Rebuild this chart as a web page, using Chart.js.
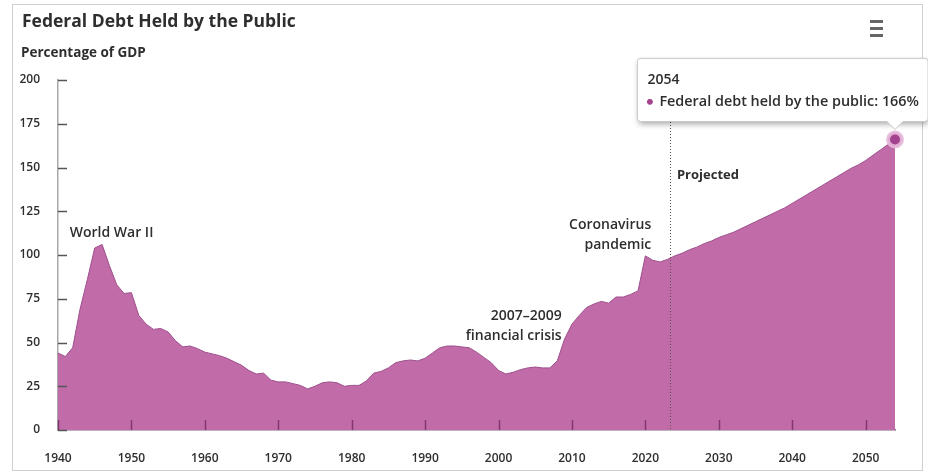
<!DOCTYPE html>
<html>
<head>
<meta charset="utf-8">
<title>Federal Debt Held by the Public</title>
<script src="https://cdn.jsdelivr.net/npm/chart.js@4.4.1/dist/chart.umd.min.js"></script>
<style>
  html, body { margin: 0; padding: 0; background: #fff; }
  #wrap { position: relative; width: 936px; height: 474px; }
  canvas { position: absolute; left: 0; top: 0; }
</style>
</head>
<body>
<div id="wrap"><canvas id="debtChart" width="928" height="474"></canvas></div>
<script>
// Data (percentage of GDP, fiscal years)
const years = [
  1940, 1941, 1942, 1943, 1944, 1945, 1946, 1947, 1948, 1949,
  1950, 1951, 1952, 1953, 1954, 1955, 1956, 1957, 1958, 1959,
  1960, 1961, 1962, 1963, 1964, 1965, 1966, 1967, 1968, 1969,
  1970, 1971, 1972, 1973, 1974, 1975, 1976, 1977, 1978, 1979,
  1980, 1981, 1982, 1983, 1984, 1985, 1986, 1987, 1988, 1989,
  1990, 1991, 1992, 1993, 1994, 1995, 1996, 1997, 1998, 1999,
  2000, 2001, 2002, 2003, 2004, 2005, 2006, 2007, 2008, 2009,
  2010, 2011, 2012, 2013, 2014, 2015, 2016, 2017, 2018, 2019,
  2020, 2021, 2022, 2023, 2024, 2025, 2026, 2027, 2028, 2029,
  2030, 2031, 2032, 2033, 2034, 2035, 2036, 2037, 2038, 2039,
  2040, 2041, 2042, 2043, 2044, 2045, 2046, 2047, 2048, 2049,
  2050, 2051, 2052, 2053, 2054
];
const debtShare = [
  44, 42, 47, 69, 86, 104, 106, 94, 83, 78,
  78.5, 65.5, 60.5, 57.5, 58, 56, 51, 47.5, 48, 46.5,
  44.5, 43.5, 42.5, 41, 39, 37, 34, 32, 32.5, 28.5,
  27.5, 27.5, 26.5, 25.5, 23.5, 25, 27, 27.5, 27, 25,
  25.5, 25.5, 28, 32.5, 33.5, 35.5, 38.5, 39.5, 40, 39.5,
  41, 44, 47, 48, 48, 47.5, 47, 44.5, 41.5, 38.5,
  34, 32, 33, 34.5, 35.5, 36, 35.5, 35.5, 39.5, 52,
  60.5, 65.5, 70, 72, 73.5, 72.5, 76, 76, 77.5, 79.5,
  99.5, 97, 96, 97.5, 99.5, 101, 103, 104.5, 106.5, 108,
  110, 111.5, 113, 115, 117, 119, 121, 123, 125, 127,
  129.5, 132, 134.5, 137, 139.5, 142, 144.5, 147, 149.5, 151.5,
  154, 157, 160, 163, 166
];
const xTicks = [1940, 1950, 1960, 1970, 1980, 1990, 2000, 2010, 2020, 2030, 2040, 2050];
const yTicks = [0, 25, 50, 75, 100, 125, 150, 175, 200];
const seriesName = 'Federal debt held by the public';
const projectionStart = 2023.35;

const FONT = "'Open Sans', 'Noto Sans', sans-serif";
const lastIndex = years.length - 1;
const points = years.map((y, i) => ({ x: y, y: debtShare[i] }));

// Text notes anchored in data units
const notes = [
  { lines: ['World War II'], x: 1941.6, y: 112.6, align: 'left', weight: '600' },
  { lines: ['2007\u20132009', 'financial crisis'], x: 2008.6, y: 65.1, align: 'right', weight: '600' },
  { lines: ['Coronavirus', 'pandemic'], x: 2020.8, y: 117.1, align: 'right', weight: '600' },
  { lines: ['Projected'], x: 2024.3, y: 145.7, align: 'left', weight: '700' }
];

const decorPlugin = {
  id: 'decor',
  beforeDraw(chart) {
    const ctx = chart.ctx;
    ctx.save();
    ctx.fillStyle = '#fff';
    ctx.fillRect(0, 0, chart.width, chart.height);
    ctx.strokeStyle = '#cfcfcf';
    ctx.lineWidth = 1;
    ctx.strokeRect(12.5, 4.5, 910, 466);

    ctx.fillStyle = '#2e2e2e';
    ctx.textAlign = 'left';
    ctx.textBaseline = 'alphabetic';
    ctx.font = '700 17.5px ' + FONT;
    ctx.fillText('Federal Debt Held by the Public', 22, 27);
    ctx.font = '700 13.5px ' + FONT;
    ctx.fillText('Percentage of GDP', 21, 57);

    // menu icon
    ctx.fillStyle = '#666';
    [20, 27, 34].forEach(y => ctx.fillRect(870, y, 13, 3));
    ctx.restore();
  },
  afterDatasetsDraw(chart) {
    const ctx = chart.ctx;
    const xs = chart.scales.x, ys = chart.scales.y;
    const area = chart.chartArea;
    ctx.save();

    // inner tick marks
    ctx.lineWidth = 1.5;
    ctx.strokeStyle = '#555';
    ys.ticks.forEach(t => {
      const py = Math.round(ys.getPixelForValue(t.value)) + 0.5;
      ctx.beginPath();
      ctx.moveTo(area.left, py);
      ctx.lineTo(area.left + 9, py);
      ctx.stroke();
    });
    ctx.strokeStyle = 'rgba(90, 20, 70, 0.6)';
    xs.ticks.forEach(t => {
      const px = Math.round(xs.getPixelForValue(t.value)) + 0.5;
      ctx.beginPath();
      ctx.moveTo(px, area.bottom);
      ctx.lineTo(px, area.bottom - 10);
      ctx.stroke();
    });

    // projection divider
    const dx = Math.round(xs.getPixelForValue(projectionStart)) + 0.5;
    ctx.strokeStyle = '#555';
    ctx.lineWidth = 1;
    ctx.setLineDash([1, 2]);
    ctx.beginPath();
    ctx.moveTo(dx, area.top);
    ctx.lineTo(dx, area.bottom);
    ctx.stroke();
    ctx.setLineDash([]);

    // notes
    ctx.fillStyle = '#2e2e2e';
    ctx.textBaseline = 'middle';
    notes.forEach(n => {
      ctx.font = n.weight + ' ' + (n.weight === '700' ? 13 : 14) + 'px ' + FONT;
      ctx.textAlign = n.align;
      const px = xs.getPixelForValue(n.x);
      const py = ys.getPixelForValue(n.y);
      n.lines.forEach((line, i) => ctx.fillText(line, px, py + i * 19.5));
    });
    ctx.restore();
  },
  beforeTooltipDraw(chart, args) {
    const tt = args.tooltip;
    if (!tt || !tt.opacity) return;
    const ctx = chart.ctx;
    ctx.save();
    ctx.shadowColor = 'rgba(0, 0, 0, 0.35)';
    ctx.shadowBlur = 6;
    ctx.shadowOffsetX = 1;
    ctx.shadowOffsetY = 3;
    ctx.fillStyle = '#fff';
    ctx.fillRect(tt.x + 1, tt.y + 1, tt.width - 2, tt.height - 2);
    ctx.restore();
  }
};

const chart = new Chart(document.getElementById('debtChart'), {
  type: 'line',
  data: {
    datasets: [{
      label: seriesName,
      data: points,
      fill: 'origin',
      backgroundColor: '#c16ba9',
      borderColor: '#9d4f8c',
      borderWidth: 1,
      tension: 0,
      pointRadius: 0,
      pointHoverRadius: 7,
      pointHoverBorderWidth: 4,
      pointHoverBackgroundColor: '#a3428d',
      pointHoverBorderColor: 'rgba(232, 185, 220, 0.9)',
      clip: false
    }]
  },
  options: {
    responsive: false,
    animation: false,
    events: [],
    layout: { padding: { left: 0, right: 33, top: 80, bottom: 0 } },
    scales: {
      x: {
        type: 'linear',
        min: 1940,
        max: 2054,
        z: 1,
        afterFit(scale) { scale.height = 44; },
        afterBuildTicks(scale) { scale.ticks = xTicks.map(v => ({ value: v })); },
        grid: { display: false, drawTicks: false },
        border: { display: true, color: '#7a6a76', width: 1.5 },
        ticks: {
          padding: 21,
          color: '#2e2e2e',
          font: { family: FONT, size: 12, weight: '600' },
          callback: v => String(v)
        }
      },
      y: {
        min: 0,
        max: 200,
        z: 1,
        afterFit(scale) { scale.width = 58; },
        afterBuildTicks(scale) { scale.ticks = yTicks.map(v => ({ value: v })); },
        grid: { display: false, drawTicks: false },
        border: { display: true, color: '#a8a8a8', width: 1.5 },
        ticks: {
          padding: 18,
          color: '#2e2e2e',
          font: { family: FONT, size: 12, weight: '600' },
          callback: v => String(v)
        }
      }
    },
    plugins: {
      legend: { display: false },
      title: { display: false },
      tooltip: {
        enabled: true,
        xAlign: 'center',
        yAlign: 'bottom',
        backgroundColor: '#fff',
        borderColor: '#c8c8c8',
        borderWidth: 1,
        cornerRadius: 3,
        caretSize: 8,
        caretPadding: 10,
        titleColor: '#2e2e2e',
        bodyColor: '#2e2e2e',
        titleFont: { family: FONT, size: 14, weight: '600' },
        bodyFont: { family: FONT, size: 14.4, weight: '600' },
        titleMarginBottom: 5,
        padding: { top: 13, bottom: 11, left: 10, right: 9 },
        displayColors: true,
        usePointStyle: true,
        boxWidth: 5,
        boxHeight: 5,
        boxPadding: 5,
        callbacks: {
          title: items => String(years[items[0].dataIndex]),
          label: item => seriesName + ': ' + Math.round(item.parsed.y) + '%',
          labelColor: () => ({ borderColor: '#a3428d', backgroundColor: '#a3428d' }),
          labelPointStyle: () => ({ pointStyle: 'circle', rotation: 0 })
        }
      }
    }
  },
  plugins: [decorPlugin]
});

const active = [{ datasetIndex: 0, index: lastIndex }];
chart.setActiveElements(active);
chart.tooltip.setActiveElements(active, { x: 0, y: 0 });
chart.update();
</script>
</body>
</html>
